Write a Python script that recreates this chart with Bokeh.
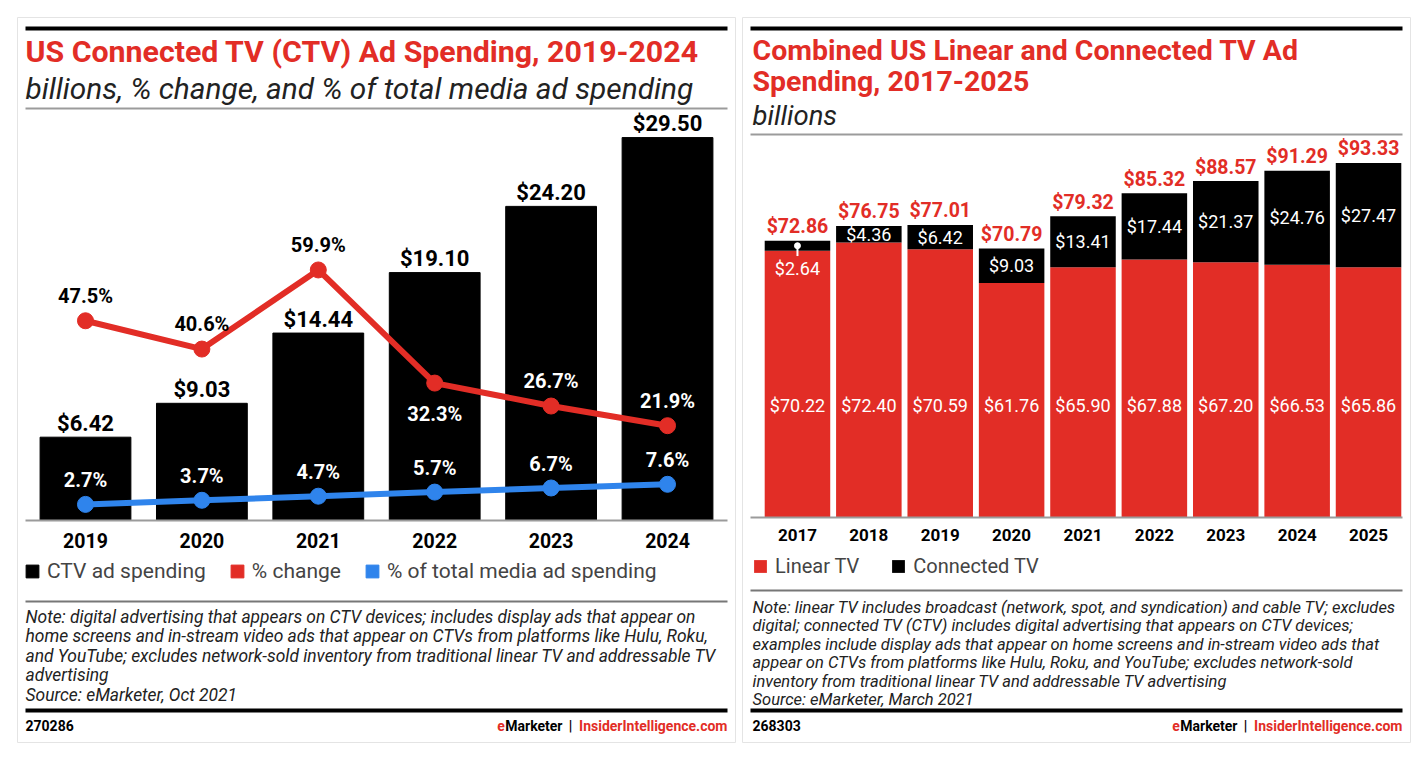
from bokeh.plotting import figure
from bokeh.models import (ColumnDataSource, Range1d, Label, BoxAnnotation,
                          Legend, LegendItem)
from bokeh.layouts import row
from bokeh.embed import file_html
from bokeh.resources import INLINE
from bokeh.core.properties import value

# ---------------- data: left chart ----------------
years_left = ["2019", "2020", "2021", "2022", "2023", "2024"]
ctv_ad_spending = [6.42, 9.03, 14.44, 19.10, 24.20, 29.50]
pct_change = [47.5, 40.6, 59.9, 32.3, 26.7, 21.9]
pct_of_total_media = [2.7, 3.7, 4.7, 5.7, 6.7, 7.6]

# ---------------- data: right chart ----------------
years_right = ["2017", "2018", "2019", "2020", "2021", "2022", "2023", "2024", "2025"]
linear_tv = [70.22, 72.40, 70.59, 61.76, 65.90, 67.88, 67.20, 66.53, 65.86]
connected_tv = [2.64, 4.36, 6.42, 9.03, 13.41, 17.44, 21.37, 24.76, 27.47]
combined_total = [72.86, 76.75, 77.01, 70.79, 79.32, 85.32, 88.57, 91.29, 93.33]

# ---------------- style ----------------
RED = "#e22d26"
BLUE = "#2f84ec"
BLACK = "#000000"
GRAY = "#9b9b9b"
FONT = "Roboto"

# page-coordinate frames of the two cards
L_LEFT, L_RIGHT, TOP, BOTTOM = 17, 735, 17, 742
R_LEFT, R_RIGHT = 742, 1410


def make_fig(width, ml, mr, xr, yr):
    p = figure(width=width, height=750, output_backend="svg", toolbar_location=None,
               x_range=xr, y_range=yr, x_axis_location=None, y_axis_location=None,
               min_border_left=ml, min_border_right=mr, min_border_top=17,
               min_border_bottom=8, background_fill_color="white",
               border_fill_color="white")
    p.grid.visible = False
    p.outline_line_color = "#e4e4e4"
    p.outline_line_width = 1
    return p


def hrule(p, fl, x0, x1, y, thick, color):
    p.add_layout(BoxAnnotation(left=x0 - fl, right=x1 - fl,
                               bottom=BOTTOM - y - thick / 2, top=BOTTOM - y + thick / 2,
                               left_units="screen", right_units="screen",
                               top_units="screen", bottom_units="screen",
                               fill_color=color, fill_alpha=1, line_alpha=0,
                               level="overlay"))


def label(p, fl, x, y, text, size, color=BLACK, style="normal", align="left",
          font=FONT):
    p.add_layout(Label(x=x - fl, y=BOTTOM - y, x_units="screen", y_units="screen",
                       text=text, text_font=font, text_font_size=f"{size}px",
                       text_font_style=style, text_color=color, text_align=align,
                       text_baseline="middle"))


def footer(p, fl, x_right, code, x_code):
    label(p, fl, x_code, 725, code, 14, BLACK, "bold")
    label(p, fl, x_right, 725, "InsiderIntelligence.com", 14, RED, "bold", "right")
    label(p, fl, x_right - 157, 725, "|", 14, BLACK, "bold", "center")
    label(p, fl, x_right - 165, 725, "Marketer", 14, BLACK, "bold", "right")
    label(p, fl, x_right - 222.6, 725, "e", 14, RED, "bold", "right")


# ======================= LEFT CHART =======================
n_l = len(years_left)
pl = make_fig(738, 17, 3, Range1d(-0.584, n_l - 1 + 0.584), Range1d(-17.10, 38.75))
pl.extra_y_ranges = {"pct": Range1d(-55.4, 121.5)}

yr_s, yr_p = pl.y_range, pl.extra_y_ranges["pct"]


def pct_to_spend(v):
    f = (v - yr_p.start) / (yr_p.end - yr_p.start)
    return yr_s.start + f * (yr_s.end - yr_s.start)


chg_below = [False, False, False, True, False, False]
chg_offset = [31 if b else -25 for b in chg_below]
chg_color = []
for i, v in enumerate(pct_change):
    lbl_shift = chg_offset[i] / 12.98  # spend units per px
    on_bar = pct_to_spend(v) - lbl_shift < ctv_ad_spending[i]
    chg_color.append("white" if on_bar else BLACK)

src_l = ColumnDataSource(dict(
    x=list(range(n_l)), year=years_left, spend=ctv_ad_spending,
    spend_lbl=[f"${v:.2f}" for v in ctv_ad_spending],
    chg=pct_change, chg_lbl=[f"{v:.1f}%" for v in pct_change],
    chg_off=chg_offset, chg_col=chg_color,
    tot=pct_of_total_media, tot_lbl=[f"{v:.1f}%" for v in pct_of_total_media],
))

bars_l = pl.vbar(x="x", top="spend", bottom=0, width=0.78, color=BLACK, source=src_l)
pl.text(x="x", y="spend", text="spend_lbl", source=src_l, y_offset=-14,
        text_align="center", text_baseline="middle", text_font=value(FONT),
        text_font_size="22px", text_font_style="bold", text_color=BLACK)

pl.line(x="x", y="tot", source=src_l, y_range_name="pct", color=BLUE, line_width=6)
pl.scatter(x="x", y="tot", source=src_l, y_range_name="pct", color=BLUE, size=16)
pl.line(x="x", y="chg", source=src_l, y_range_name="pct", color=RED, line_width=6)
pl.scatter(x="x", y="chg", source=src_l, y_range_name="pct", color=RED, size=16)

pl.text(x="x", y="chg", text="chg_lbl", source=src_l, y_range_name="pct", y_offset="chg_off",
        text_align="center", text_baseline="middle", text_font=value(FONT),
        text_font_size="20px", text_font_style="bold", text_color="chg_col")
pl.text(x="x", y="tot", text="tot_lbl", source=src_l, y_range_name="pct", y_offset=-24,
        text_align="center", text_baseline="middle", text_font=value(FONT),
        text_font_size="20px", text_font_style="bold", text_color="white")

# year labels (category axis)
pl.text(x="x", y=0, text="year", source=src_l, y_offset=20, text_align="center",
        text_baseline="middle", text_font=value(FONT), text_font_size="19.5px",
        text_font_style="bold", text_color=BLACK)

# legend (zero-size swatch renderers for the two lines)
leg_red = pl.vbar(x=[0], top=[0], width=0, color=RED)
leg_blue = pl.vbar(x=[0], top=[0], width=0, color=BLUE)
legend_l = Legend(items=[LegendItem(label="CTV ad spending", renderers=[bars_l]),
                         LegendItem(label="% change", renderers=[leg_red]),
                         LegendItem(label="% of total media ad spending", renderers=[leg_blue])],
                  orientation="horizontal", location=(7, 159), glyph_width=16,
                  glyph_height=16, label_height=16, label_standoff=7, spacing=23,
                  padding=0, margin=0, border_line_alpha=0, background_fill_alpha=0,
                  label_text_font=FONT, label_text_font_size="21px")
pl.add_layout(legend_l)

# rules, titles, notes
hrule(pl, L_LEFT, 25, 727, 28, 4, BLACK)
hrule(pl, L_LEFT, 25, 727, 108, 2, GRAY)
hrule(pl, L_LEFT, 25, 727, 520, 2, GRAY)
hrule(pl, L_LEFT, 25, 727, 601, 2, "#777777")
hrule(pl, L_LEFT, 25, 727, 710, 4, BLACK)

label(pl, L_LEFT, 25, 51, "US Connected TV (CTV) Ad Spending, 2019-2024", 30.3, RED, "bold")
label(pl, L_LEFT, 25, 88, "billions, % change, and % of total media ad spending", 29.8, "#222222", "italic")

notes_l = ["Note: digital advertising that appears on CTV devices; includes display ads that appear on",
           "home screens and in-stream video ads that appear on CTVs from platforms like Hulu, Roku,",
           "and YouTube; excludes network-sold inventory from traditional linear TV and addressable TV",
           "advertising",
           "Source: eMarketer, Oct 2021"]
for i, t in enumerate(notes_l):
    label(pl, L_LEFT, 25, 616 + i * 19.5, t, 17.4, "#222222", "italic")

footer(pl, L_LEFT, 727, "270286", 25)

# ======================= RIGHT CHART =======================
n_r = len(years_right)
pr = make_fig(682, 4, 10, Range1d(-0.770, n_r - 1 + 0.588), Range1d(-59.2, 131.6))

small = [c < 3 for c in connected_tv]
src_r = ColumnDataSource(dict(
    x=list(range(n_r)), year=years_right, linear=linear_tv, ctv=connected_tv,
    total=combined_total, total_lbl=[f"${v:.2f}" for v in combined_total],
    lin_lbl=[f"${v:.2f}" for v in linear_tv],
))
stack = pr.vbar_stack(["linear", "ctv"], x="x", width=0.918, color=[RED, BLACK],
                      line_color=None, source=src_r)

# CTV labels: inside the black segment, or below with a leader when too thin
ctv_in = dict(x=[], y=[], t=[])
ctv_out = dict(x=[], y=[], t=[], y0=[], y1=[])
for i, (l, c) in enumerate(zip(linear_tv, connected_tv)):
    if small[i]:
        ctv_out["x"].append(i); ctv_out["y"].append(l); ctv_out["t"].append(f"${c:.2f}")
        ctv_out["y1"].append(l + c / 2); ctv_out["y0"].append(l - 1.4)
    else:
        ctv_in["x"].append(i); ctv_in["y"].append(l + c / 2); ctv_in["t"].append(f"${c:.2f}")

pr.text(x="x", y="y", text="t", source=ColumnDataSource(ctv_in), text_align="center",
        text_baseline="middle", text_font=value(FONT), text_font_size="18px",
        text_color="white")
src_out = ColumnDataSource(ctv_out)
pr.segment(x0="x", y0="y0", x1="x", y1="y1", source=src_out, color="white", line_width=2)
pr.scatter(x="x", y="y1", source=src_out, color="white", size=6)
pr.text(x="x", y="y", text="t", source=src_out, y_offset=18, text_align="center",
        text_baseline="middle", text_font=value(FONT), text_font_size="18px",
        text_color="white")

LIN_LABEL_Y = 29.5
pr.text(x="x", y=LIN_LABEL_Y, text="lin_lbl", source=src_r, text_align="center",
        text_baseline="middle", text_font=value(FONT), text_font_size="18px",
        text_color="white")
pr.text(x="x", y="total", text="total_lbl", source=src_r, y_offset=-14, text_align="center",
        text_baseline="middle", text_font=value(FONT), text_font_size="19.5px",
        text_font_style="bold", text_color=RED)
pr.text(x="x", y=0, text="year", source=src_r, y_offset=17, text_align="center",
        text_baseline="middle", text_font=value(FONT), text_font_size="17px",
        text_font_style="bold", text_color=BLACK)

legend_r = Legend(items=[LegendItem(label="Linear TV", renderers=[stack[0]]),
                         LegendItem(label="Connected TV", renderers=[stack[1]])],
                  orientation="horizontal", location=(10, 164), glyph_width=16,
                  glyph_height=16, label_height=16, label_standoff=7, spacing=31,
                  padding=0, margin=0, border_line_alpha=0, background_fill_alpha=0,
                  label_text_font=FONT, label_text_font_size="20px")
pr.add_layout(legend_r)

hrule(pr, R_LEFT, 750, 1402, 28, 4, BLACK)
hrule(pr, R_LEFT, 750, 1402, 134, 2, GRAY)
hrule(pr, R_LEFT, 750, 1402, 517, 2, GRAY)
hrule(pr, R_LEFT, 750, 1402, 590, 2, "#777777")
hrule(pr, R_LEFT, 750, 1402, 710, 4, BLACK)

label(pr, R_LEFT, 752, 50, "Combined US Linear and Connected TV Ad", 28.5, RED, "bold")
label(pr, R_LEFT, 752, 81, "Spending, 2017-2025", 28.5, RED, "bold")
label(pr, R_LEFT, 752, 115, "billions", 27.5, "#222222", "italic")

notes_r = ["Note: linear TV includes broadcast (network, spot, and syndication) and cable TV; excludes",
           "digital; connected TV (CTV) includes digital advertising that appears on CTV devices;",
           "examples include display ads that appear on home screens and in-stream video ads that",
           "appear on CTVs from platforms like Hulu, Roku, and YouTube; excludes network-sold",
           "inventory from traditional linear TV and addressable TV advertising",
           "Source: eMarketer, March 2021"]
for i, t in enumerate(notes_r):
    label(pr, R_LEFT, 752, 607 + i * 18.4, t, 16.5, "#222222", "italic")

footer(pr, R_LEFT, 1402, "268303", 752)

layout = row(pl, pr)
open("out.html", "w").write(file_html(layout, INLINE))
